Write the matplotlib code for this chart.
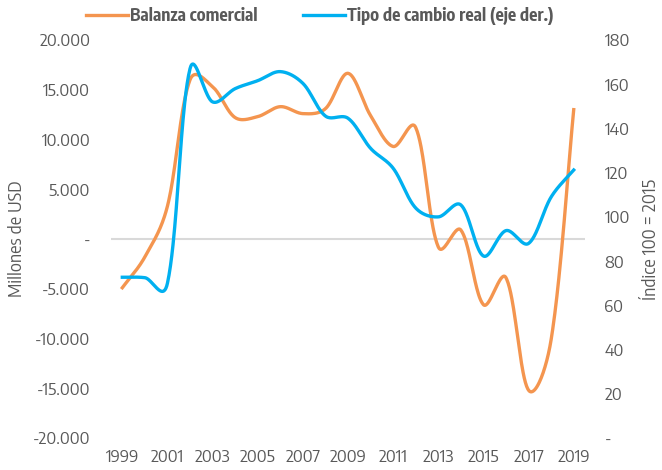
import numpy as np
import matplotlib
matplotlib.use("Agg")
import matplotlib.pyplot as plt
from matplotlib.ticker import FuncFormatter

years = list(range(1999, 2020))
balanza = [-4900, -1800, 3300, 16000, 15300, 12200, 12300, 13300, 12600, 13100,
           16650, 12400, 9300, 11200, -800, 900, -6600, -3900, -15200, -10100, 13000]
tcr = [72.7, 72.5, 70, 167, 152, 158, 161.6, 165.7, 160.4, 145.6,
       144.6, 131, 122, 104, 100, 105.4, 82.3, 93.8, 88, 109, 121.2]

ORANGE = "#F4954F"
BLUE = "#00B0F0"
GREY = "#595959"

plt.rcParams["font.family"] = ["Encode Sans Semi Condensed", "Encode Sans Condensed",
                               "Barlow Semi Condensed", "DejaVu Sans"]
LEGEND_FONT = ["Encode Sans Condensed", "Barlow Condensed", "DejaVu Sans"]

PX_PER_YEAR = 22.57


def smooth(x, y, py_scale, n=40):
    # bezier smoothing; tangents partly scaled by neighbouring segment
    # lengths on screen, so big jumps overshoot less (spreadsheet look)
    P = np.column_stack([np.asarray(x, float), np.asarray(y, float)])
    S = np.array([PX_PER_YEAR, py_scale])
    m = len(P)
    cb = P.copy()
    ca = P.copy()
    for i in range(m):
        p0 = P[max(i - 1, 0)]
        p2 = P[min(i + 1, m - 1)]
        d01 = np.linalg.norm((P[i] - p0) * S)
        d12 = np.linalg.norm((p2 - P[i]) * S)
        tot = d01 + d12
        if tot == 0:
            continue
        fa = (0.25 + 0.5 * d01 / tot) / 3
        fb = (0.25 + 0.5 * d12 / tot) / 3
        cb[i] = P[i] - fa * (p2 - p0)
        ca[i] = P[i] + fb * (p2 - p0)
    t = np.linspace(0, 1, n)[:, None]
    out = []
    for i in range(m - 1):
        b = (1 - t) ** 3 * P[i] + 3 * (1 - t) ** 2 * t * ca[i] \
            + 3 * (1 - t) * t ** 2 * cb[i + 1] + t ** 3 * P[i + 1]
        out.append(b)
    out = np.vstack(out)
    return out[:, 0], out[:, 1]


fig = plt.figure(figsize=(6.62, 4.70), dpi=100)
ax = fig.add_axes([0.1677, 0.0681, 0.716, 0.8468])
ax2 = ax.twinx()

ax.axhline(0, color="#D9D9D9", linewidth=1.5, zorder=1)

bx, by = smooth(years, balanza, 398 / 40000)
ax.plot(bx, by, color=ORANGE, linewidth=2.4, label="Balanza comercial", zorder=3)
tx, ty = smooth(years, tcr, 398 / 180)
ax2.plot(tx, ty, color=BLUE, linewidth=2.4, label="Tipo de cambio real (eje der.)", zorder=3)

ax.set_xlim(1998.5, 2019.5)
ax.set_ylim(-20000, 20000)
ax2.set_ylim(0, 180)
ax.set_yticks(range(-20000, 20001, 5000))
ax2.set_yticks(range(0, 181, 20))
ax.set_xticks(years[::2])


def fmt_left(v, pos):
    if v == 0:
        return "-"
    return f"{int(v):,}".replace(",", ".")


def fmt_right(v, pos):
    if v == 0:
        return "-"
    return f"{int(v)}"


ax.yaxis.set_major_formatter(FuncFormatter(fmt_left))
ax2.yaxis.set_major_formatter(FuncFormatter(fmt_right))

for a in (ax, ax2):
    for s in a.spines.values():
        s.set_visible(False)
    a.tick_params(length=0, colors=GREY, labelsize=12.2)

ax.tick_params(axis="y", pad=15)
ax2.tick_params(axis="y", pad=14)
ax.tick_params(axis="x", pad=8)

ax.set_ylabel("Millones de USD", color=GREY, fontsize=12.5, labelpad=5)
ax2.set_ylabel("Índice 100 = 2015", color=GREY, fontsize=12.5, labelpad=9)

h1, l1 = ax.get_legend_handles_labels()
h2, l2 = ax2.get_legend_handles_labels()
leg = fig.legend(h1 + h2, l1 + l2, loc="center", bbox_to_anchor=(0.483, 0.966),
                 ncol=2, frameon=False, handlelength=2.4, handletextpad=0.15,
                 columnspacing=2.6,
                 prop={"family": LEGEND_FONT, "weight": "bold", "size": 12.5})
for t in leg.get_texts():
    t.set_color(GREY)

fig.savefig("out.png", dpi=100)
